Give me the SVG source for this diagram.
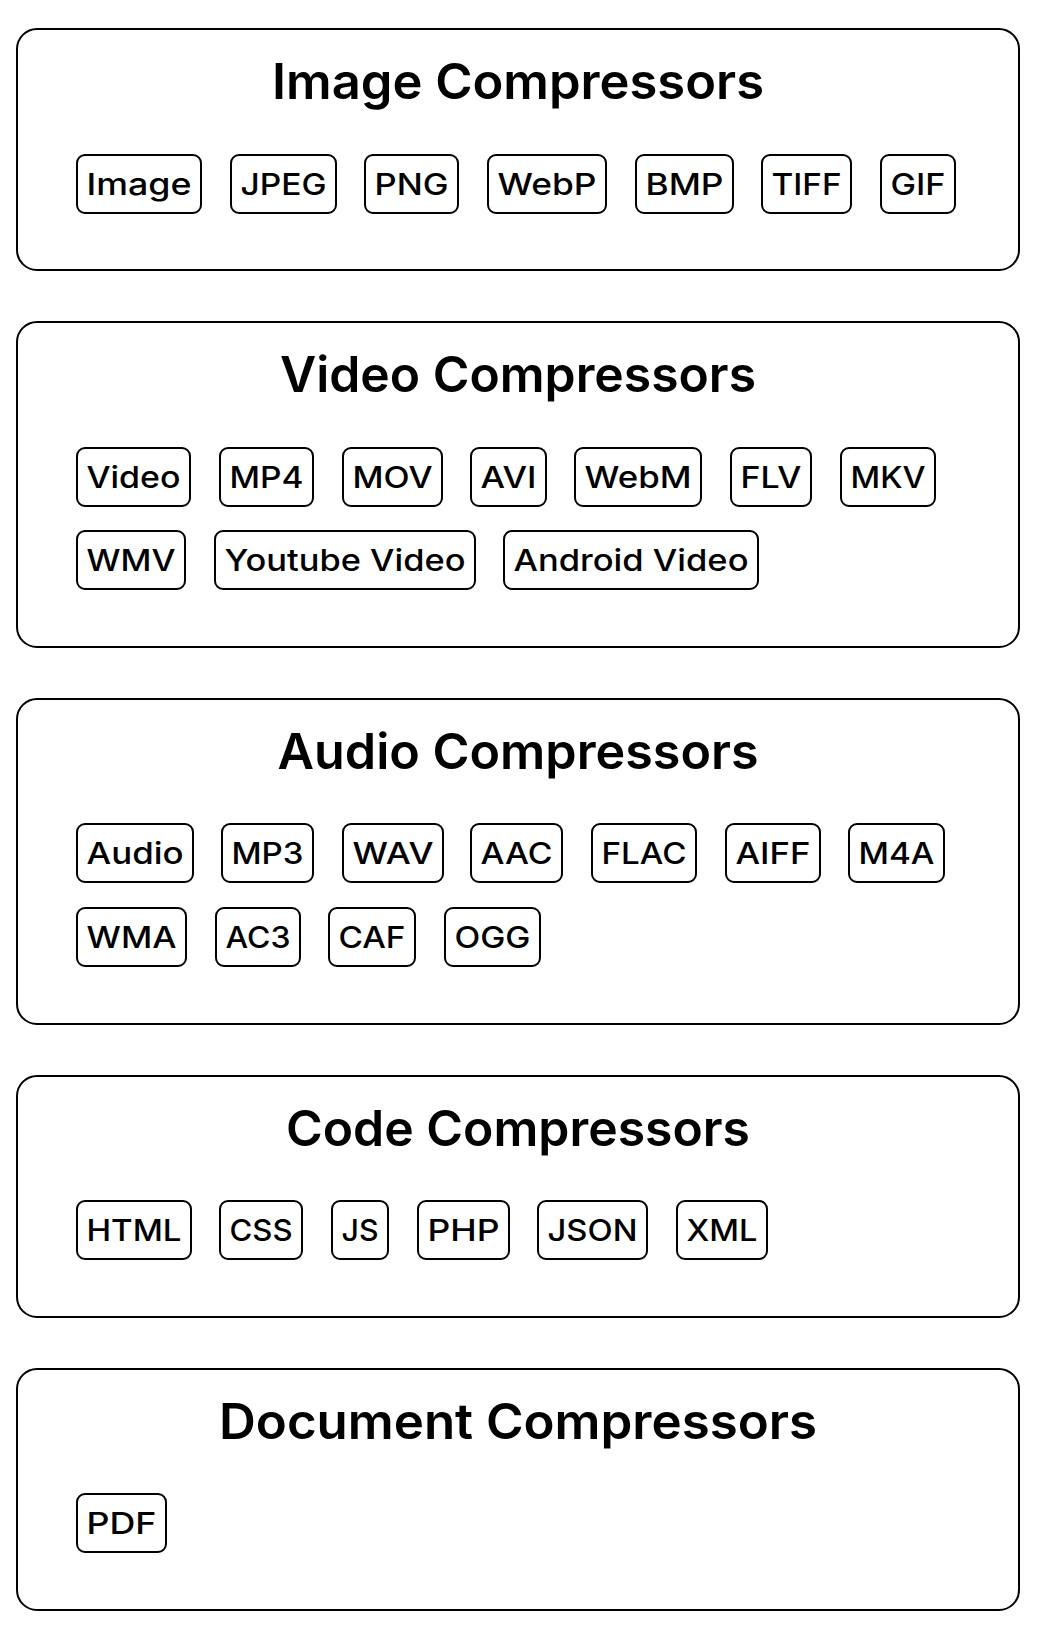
<svg xmlns="http://www.w3.org/2000/svg" width="1040" height="1628" viewBox="0 0 1040 1628">
<style>
.panel{fill:#fff;stroke:#000;stroke-width:2}
.chip{fill:#fff;stroke:#000;stroke-width:2}
.title{font-family:Inter,"Noto Sans","Liberation Sans",sans-serif;font-weight:600;font-size:49px;fill:#000;text-anchor:middle}
.lbl{font-family:Inter,"Noto Sans","Liberation Sans",sans-serif;font-weight:500;font-size:30px;fill:#000;text-anchor:middle}
</style>
<rect width="1040" height="1628" fill="#fff"/>
<g id="image-compressors">
<rect class="panel" x="17" y="29" width="1002" height="241" rx="20"/>
<text class="title" x="518" y="99" textLength="492" lengthAdjust="spacingAndGlyphs">Image Compressors</text>
<g id="chip-image"><rect class="chip" x="77" y="155" width="124" height="58" rx="8"/><text class="lbl" x="139" y="195" textLength="105" lengthAdjust="spacingAndGlyphs">Image</text></g>
<g id="chip-jpeg"><rect class="chip" x="231" y="155" width="105" height="58" rx="8"/><text class="lbl" x="283.5" y="195" textLength="86" lengthAdjust="spacingAndGlyphs">JPEG</text></g>
<g id="chip-png"><rect class="chip" x="365" y="155" width="93" height="58" rx="8"/><text class="lbl" x="411.5" y="195" textLength="74" lengthAdjust="spacingAndGlyphs">PNG</text></g>
<g id="chip-webp"><rect class="chip" x="488" y="155" width="118" height="58" rx="8"/><text class="lbl" x="547" y="195" textLength="99" lengthAdjust="spacingAndGlyphs">WebP</text></g>
<g id="chip-bmp"><rect class="chip" x="636" y="155" width="97" height="58" rx="8"/><text class="lbl" x="684.5" y="195" textLength="78" lengthAdjust="spacingAndGlyphs">BMP</text></g>
<g id="chip-tiff"><rect class="chip" x="762" y="155" width="89" height="58" rx="8"/><text class="lbl" x="806.5" y="195" textLength="70" lengthAdjust="spacingAndGlyphs">TIFF</text></g>
<g id="chip-gif"><rect class="chip" x="881" y="155" width="74" height="58" rx="8"/><text class="lbl" x="918" y="195" textLength="55" lengthAdjust="spacingAndGlyphs">GIF</text></g>
</g>
<g id="video-compressors">
<rect class="panel" x="17" y="322" width="1002" height="325" rx="20"/>
<text class="title" x="518" y="392" textLength="476" lengthAdjust="spacingAndGlyphs">Video Compressors</text>
<g id="chip-video"><rect class="chip" x="77" y="448" width="113" height="58" rx="8"/><text class="lbl" x="133.5" y="488" textLength="94" lengthAdjust="spacingAndGlyphs">Video</text></g>
<g id="chip-mp4"><rect class="chip" x="220" y="448" width="93" height="58" rx="8"/><text class="lbl" x="266.5" y="488" textLength="74" lengthAdjust="spacingAndGlyphs">MP4</text></g>
<g id="chip-mov"><rect class="chip" x="343" y="448" width="99" height="58" rx="8"/><text class="lbl" x="392.5" y="488" textLength="80" lengthAdjust="spacingAndGlyphs">MOV</text></g>
<g id="chip-avi"><rect class="chip" x="471" y="448" width="75" height="58" rx="8"/><text class="lbl" x="508.5" y="488" textLength="56" lengthAdjust="spacingAndGlyphs">AVI</text></g>
<g id="chip-webm"><rect class="chip" x="575" y="448" width="126" height="58" rx="8"/><text class="lbl" x="638" y="488" textLength="107" lengthAdjust="spacingAndGlyphs">WebM</text></g>
<g id="chip-flv"><rect class="chip" x="731" y="448" width="80" height="58" rx="8"/><text class="lbl" x="771" y="488" textLength="61" lengthAdjust="spacingAndGlyphs">FLV</text></g>
<g id="chip-mkv"><rect class="chip" x="841" y="448" width="94" height="58" rx="8"/><text class="lbl" x="888" y="488" textLength="75" lengthAdjust="spacingAndGlyphs">MKV</text></g>
<g id="chip-wmv"><rect class="chip" x="77" y="531" width="108" height="58" rx="8"/><text class="lbl" x="131" y="571" textLength="89" lengthAdjust="spacingAndGlyphs">WMV</text></g>
<g id="chip-youtube-video"><rect class="chip" x="215" y="531" width="260" height="58" rx="8"/><text class="lbl" x="345" y="571" textLength="241" lengthAdjust="spacingAndGlyphs">Youtube Video</text></g>
<g id="chip-android-video"><rect class="chip" x="504" y="531" width="254" height="58" rx="8"/><text class="lbl" x="631" y="571" textLength="235" lengthAdjust="spacingAndGlyphs">Android Video</text></g>
</g>
<g id="audio-compressors">
<rect class="panel" x="17" y="699" width="1002" height="325" rx="20"/>
<text class="title" x="518" y="769" textLength="481" lengthAdjust="spacingAndGlyphs">Audio Compressors</text>
<g id="chip-audio"><rect class="chip" x="77" y="824" width="116" height="58" rx="8"/><text class="lbl" x="135" y="864" textLength="97" lengthAdjust="spacingAndGlyphs">Audio</text></g>
<g id="chip-mp3"><rect class="chip" x="222" y="824" width="91" height="58" rx="8"/><text class="lbl" x="267.5" y="864" textLength="72" lengthAdjust="spacingAndGlyphs">MP3</text></g>
<g id="chip-wav"><rect class="chip" x="343" y="824" width="100" height="58" rx="8"/><text class="lbl" x="393" y="864" textLength="81" lengthAdjust="spacingAndGlyphs">WAV</text></g>
<g id="chip-aac"><rect class="chip" x="471" y="824" width="91" height="58" rx="8"/><text class="lbl" x="516.5" y="864" textLength="72" lengthAdjust="spacingAndGlyphs">AAC</text></g>
<g id="chip-flac"><rect class="chip" x="592" y="824" width="104" height="58" rx="8"/><text class="lbl" x="644" y="864" textLength="85" lengthAdjust="spacingAndGlyphs">FLAC</text></g>
<g id="chip-aiff"><rect class="chip" x="726" y="824" width="94" height="58" rx="8"/><text class="lbl" x="773" y="864" textLength="75" lengthAdjust="spacingAndGlyphs">AIFF</text></g>
<g id="chip-m4a"><rect class="chip" x="849" y="824" width="95" height="58" rx="8"/><text class="lbl" x="896.5" y="864" textLength="76" lengthAdjust="spacingAndGlyphs">M4A</text></g>
<g id="chip-wma"><rect class="chip" x="77" y="908" width="109" height="58" rx="8"/><text class="lbl" x="131.5" y="948" textLength="90" lengthAdjust="spacingAndGlyphs">WMA</text></g>
<g id="chip-ac3"><rect class="chip" x="216" y="908" width="84" height="58" rx="8"/><text class="lbl" x="258" y="948" textLength="65" lengthAdjust="spacingAndGlyphs">AC3</text></g>
<g id="chip-caf"><rect class="chip" x="329" y="908" width="86" height="58" rx="8"/><text class="lbl" x="372" y="948" textLength="67" lengthAdjust="spacingAndGlyphs">CAF</text></g>
<g id="chip-ogg"><rect class="chip" x="445" y="908" width="95" height="58" rx="8"/><text class="lbl" x="492.5" y="948" textLength="76" lengthAdjust="spacingAndGlyphs">OGG</text></g>
</g>
<g id="code-compressors">
<rect class="panel" x="17" y="1076" width="1002" height="241" rx="20"/>
<text class="title" x="518" y="1146" textLength="464" lengthAdjust="spacingAndGlyphs">Code Compressors</text>
<g id="chip-html"><rect class="chip" x="77" y="1201" width="114" height="58" rx="8"/><text class="lbl" x="134" y="1241" textLength="95" lengthAdjust="spacingAndGlyphs">HTML</text></g>
<g id="chip-css"><rect class="chip" x="220" y="1201" width="82" height="58" rx="8"/><text class="lbl" x="261" y="1241" textLength="63" lengthAdjust="spacingAndGlyphs">CSS</text></g>
<g id="chip-js"><rect class="chip" x="332" y="1201" width="56" height="58" rx="8"/><text class="lbl" x="360" y="1241" textLength="37" lengthAdjust="spacingAndGlyphs">JS</text></g>
<g id="chip-php"><rect class="chip" x="418" y="1201" width="91" height="58" rx="8"/><text class="lbl" x="463.5" y="1241" textLength="72" lengthAdjust="spacingAndGlyphs">PHP</text></g>
<g id="chip-json"><rect class="chip" x="538" y="1201" width="109" height="58" rx="8"/><text class="lbl" x="592.5" y="1241" textLength="90" lengthAdjust="spacingAndGlyphs">JSON</text></g>
<g id="chip-xml"><rect class="chip" x="677" y="1201" width="90" height="58" rx="8"/><text class="lbl" x="722" y="1241" textLength="71" lengthAdjust="spacingAndGlyphs">XML</text></g>
</g>
<g id="document-compressors">
<rect class="panel" x="17" y="1369" width="1002" height="241" rx="20"/>
<text class="title" x="518" y="1439" textLength="598" lengthAdjust="spacingAndGlyphs">Document Compressors</text>
<g id="chip-pdf"><rect class="chip" x="77" y="1494" width="89" height="58" rx="8"/><text class="lbl" x="121.5" y="1534" textLength="70" lengthAdjust="spacingAndGlyphs">PDF</text></g>
</g>
<g id="connectors"/>
</svg>
